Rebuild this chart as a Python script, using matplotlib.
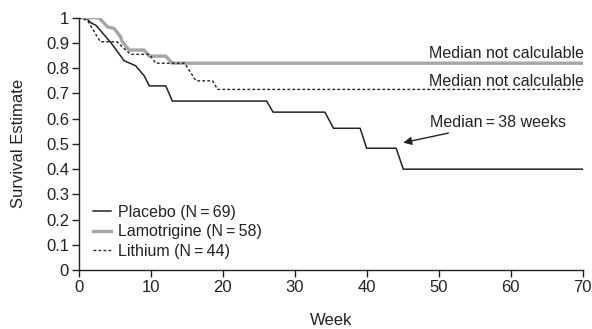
import matplotlib
matplotlib.use("Agg")
import matplotlib.pyplot as plt

plt.rcParams['font.family'] = ['Liberation Sans', 'DejaVu Sans']

placebo_weeks = [0, 1.0, 1.7, 2.4, 4.5, 6.3, 7.9, 9.1, 9.8, 12.1, 13.0, 26.1, 27.0,
                 34.2, 35.4, 39.1, 40.0, 44.1, 45.1, 70]
placebo_surv = [1, 1, 0.98, 0.97, 0.90, 0.83, 0.81, 0.77, 0.73, 0.73, 0.67, 0.67, 0.626,
                0.626, 0.562, 0.562, 0.483, 0.483, 0.40, 0.40]

lamo_weeks = [0, 2.8, 4.0, 4.9, 5.8, 6.05, 7.0, 9.1, 9.8, 12.1, 13.0, 70]
lamo_surv = [1, 1, 0.964, 0.958, 0.925, 0.905, 0.872, 0.872, 0.848, 0.848, 0.82, 0.82]

lith_weeks = [0, 1.2, 3.0, 5.3, 7.2, 9.8, 10.7, 14.7, 16.3, 18.6, 19.3, 70]
lith_surv = [1, 0.99, 0.905, 0.905, 0.855, 0.855, 0.82, 0.82, 0.75, 0.75, 0.716, 0.716]

labels = ["Placebo (N\u2009=\u200969)", "Lamotrigine (N\u2009=\u200958)", "Lithium (N\u2009=\u200944)"]
x_ticks = [0, 10, 20, 30, 40, 50, 60, 70]
y_ticks = [0, 0.1, 0.2, 0.3, 0.4, 0.5, 0.6, 0.7, 0.8, 0.9, 1]
y_tick_labels = ["0", "0.1", "0.2", "0.3", "0.4", "0.5", "0.6", "0.7", "0.8", "0.9", "1"]

fig = plt.figure(figsize=(5.92, 3.29), dpi=100)
ax = fig.add_axes([0.133, 0.179, 0.851, 0.767])

ax.plot(placebo_weeks, placebo_surv, color='#222222', lw=1.1, label=labels[0])
ax.plot(lamo_weeks, lamo_surv, color='#a6a6a6', lw=2.4, label=labels[1])
ax.plot(lith_weeks, lith_surv, color='#222222', lw=1.0, linestyle=(0, (2, 1.6)), label=labels[2])

ax.set_xlim(0, 70)
ax.set_ylim(0, 1)
ax.set_xticks(x_ticks)
ax.set_yticks(y_ticks)
ax.set_yticklabels(y_tick_labels)
for s in ['top', 'right']:
    ax.spines[s].set_visible(False)
for s in ['left', 'bottom']:
    ax.spines[s].set_linewidth(1.0)
    ax.spines[s].set_color('#222222')
ax.tick_params(axis='both', direction='out', length=5, width=1.0, labelsize=12,
               colors='#222222', pad=2)
ax.set_xlabel("Week", fontsize=12, color='#222222', labelpad=13)
ax.set_ylabel("Survival Estimate", fontsize=12, color='#222222', labelpad=14)

ax.text(70.2, 0.839, "Median not calculable", fontsize=11.5, ha='right', va='baseline', color='#222222')
ax.text(70.2, 0.729, "Median not calculable", fontsize=11.5, ha='right', va='baseline', color='#222222')
ax.annotate("Median\u2009=\u200938 weeks", xy=(45.1, 0.505), xytext=(48.8, 0.585),
            fontsize=11.5, ha='left', va='center', color='#222222',
            arrowprops=dict(arrowstyle='-|>', color='#222222', lw=1.0,
                            mutation_scale=12, shrinkA=1, shrinkB=0))

leg = ax.legend(loc='upper left', bbox_to_anchor=(0.028, 0.258), frameon=False,
                fontsize=11.5, handlelength=1.15, handletextpad=0.4,
                labelspacing=0.27, borderpad=0, borderaxespad=0)
for t in leg.get_texts():
    t.set_color('#222222')

fig.savefig("out.png", dpi=100)
